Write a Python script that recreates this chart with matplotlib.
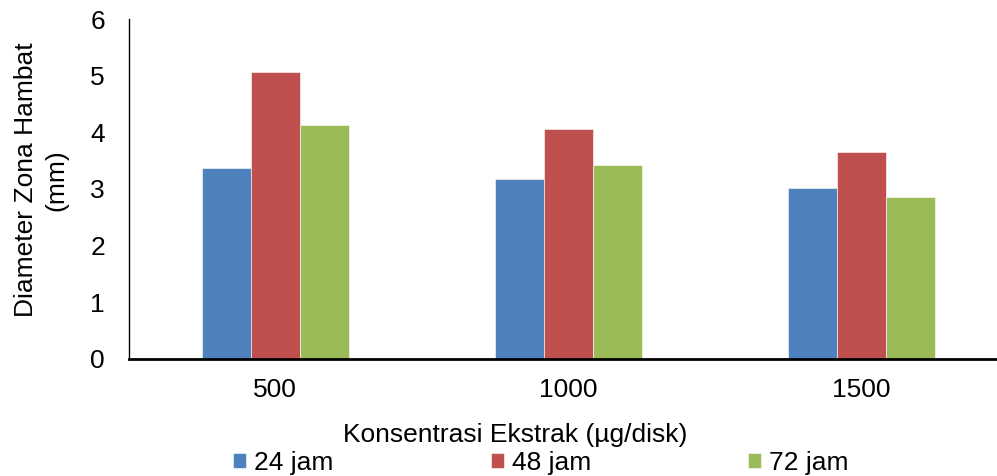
import matplotlib
matplotlib.use("Agg")
import matplotlib.pyplot as plt
import numpy as np

categories = ["500", "1000", "1500"]
series = ["24 jam", "48 jam", "72 jam"]
jam24 = [3.37, 3.17, 3.02]
jam48 = [5.06, 4.05, 3.65]
jam72 = [4.13, 3.42, 2.85]
colors = ["#4F81BD", "#C0504D", "#9BBB59"]

plt.rcParams["font.family"] = ["Liberation Sans", "DejaVu Sans"]
fs = 19

fig = plt.figure(figsize=(9.97, 4.76), dpi=100)
ax = fig.add_axes([0.129, 0.246, 0.882, 0.714])

x = np.arange(len(categories))
w = 0.167
for i, (vals, name) in enumerate(zip([jam24, jam48, jam72], series)):
    ax.bar(x + (i - 1) * w, vals, width=w, color=colors[i], label=name,
           edgecolor="white", linewidth=0.4)

ax.set_xlim(-0.5, 2.5)
ax.set_ylim(0, 6)
ax.set_yticks(range(0, 7))
ax.set_xticks(x)
ax.set_xticklabels(categories)
ax.tick_params(length=0, labelsize=fs)
ax.tick_params(axis="x", pad=14)
ax.tick_params(axis="y", pad=17)
for s in ["top", "right"]:
    ax.spines[s].set_visible(False)
ax.spines["left"].set_linewidth(1.0)
ax.spines["bottom"].set_linewidth(2.0)
ax.set_xlabel("Konsentrasi Ekstrak (µg/disk)", fontsize=fs)
ax.set_ylabel("Diameter Zona Hambat\n(mm)", fontsize=fs, linespacing=1.3)
ax.xaxis.set_label_coords(0.44, -0.188)
ax.yaxis.set_label_coords(-0.069, 0.526)

fig.legend(loc="center left", bbox_to_anchor=(233 / 997, 1 - 463 / 476), ncol=3,
           frameon=False, handlelength=0.5, handleheight=0.5,
           handletextpad=0.3, columnspacing=5.95, fontsize=fs,
           borderpad=0, borderaxespad=0)

plt.savefig("out.png", dpi=100)
plt.close()
